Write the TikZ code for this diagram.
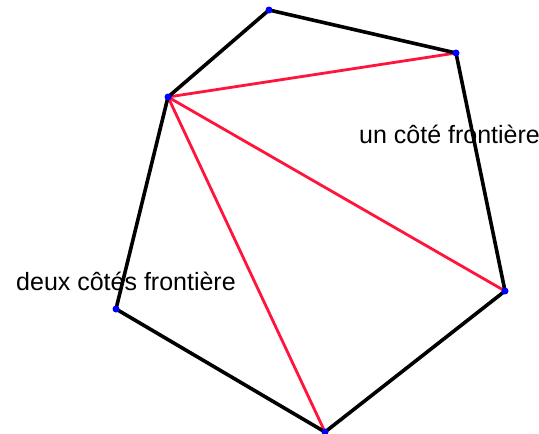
\documentclass[tikz,border=0pt]{standalone}
\usepackage{fontspec}
\setmainfont{Liberation Sans}
\usepackage{tikz}
\definecolor{diagred}{RGB}{255,20,60}
\begin{document}
\begin{tikzpicture}[x=1pt,y=-1pt,
  side/.style={line width=3.6pt,black,line join=round},
  diag/.style={line width=2.8pt,diagred},
  pt/.style={circle,fill=blue,inner sep=0pt,minimum size=7pt},
  lbl/.style={anchor=base west,inner sep=0pt,font=\fontsize{25}{30}\selectfont}
]
\useasboundingbox (0,0) rectangle (539,434);
% sommets
\coordinate (a) at (269,10);
\coordinate (b) at (456,53);
\coordinate (c) at (505,291);
\coordinate (d) at (325,432);
\coordinate (e) at (116,309);
\coordinate (f) at (168,97);

% diagonales
\draw[diag] (f) -- (b);
\draw[diag] (f) -- (c);
\draw[diag] (f) -- (d);

% bord
\draw[side] (a) -- (b) -- (c) -- (d) -- (e) -- (f) -- cycle;

\foreach \v in {a,b,c,d,e,f}
  \node[pt] (p\v) at (\v) {};

\node[lbl] (un) at (359,143) {un côté frontière};
\node[lbl] (deux) at (16,290) {deux côtés frontière};
\end{tikzpicture}
\end{document}
